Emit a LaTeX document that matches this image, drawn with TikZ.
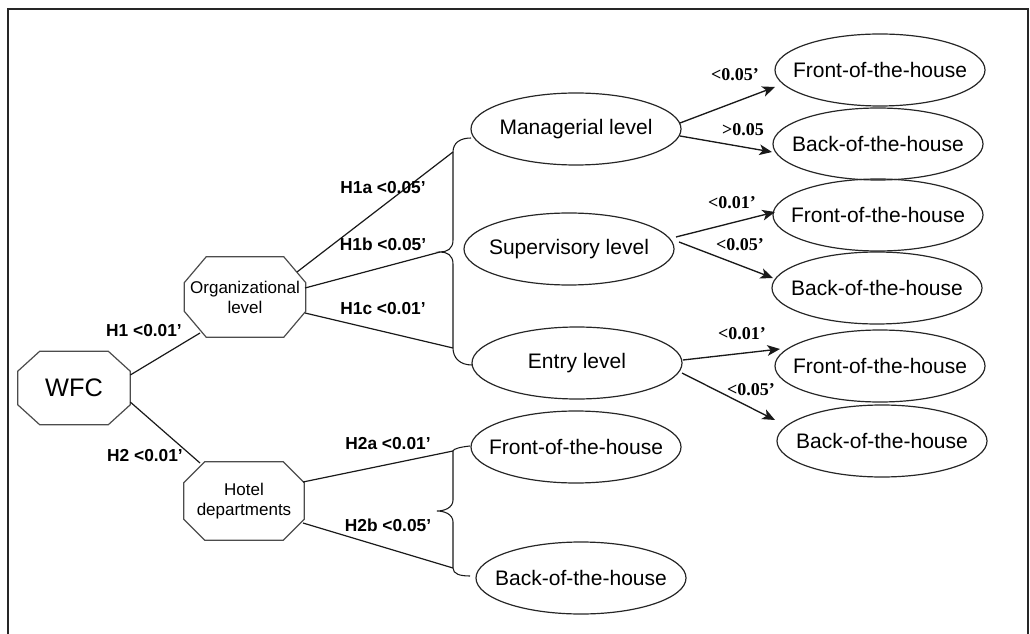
\documentclass[tikz,border=0pt]{standalone}
\usepackage{fontspec}
\setmainfont{Liberation Sans}
\newfontfamily\serifb{Liberation Serif}
\usetikzlibrary{arrows.meta,shapes.geometric}
\newcommand\zw[1]{\makebox[0pt]{#1}}
\tikzset{
  ell/.style={ellipse, draw=black!85, line width=0.9pt, minimum width=157.5pt, minimum height=54pt, inner sep=0pt, font=\fontsize{15.75}{18}\selectfont},
  oct/.style={rectangle, draw=none, inner sep=0pt, align=center},
  octline/.style={draw=black!70, line width=0.9pt},
  conn/.style={draw=black!90, line width=0.9pt},
  brace/.style={draw=black!90, line width=0.8pt},
  arr/.style={draw=black!90, line width=1pt, -{Stealth[length=9.5pt,width=8pt,inset=2.5pt]}},
  hl/.style={font=\bfseries\fontsize{13}{15}\selectfont, inner sep=0pt},
  pl/.style={font=\serifb\bfseries\fontsize{13.5}{15}\selectfont, inner sep=0pt},
  frame/.style={draw=black!85, line width=1.4pt}
}
\newcommand\octdraw[3]{%
  \draw[octline] ([xshift=#2*0.75pt]#1.north west) -- ([xshift=-#2*0.75pt]#1.north east)
   -- ([yshift=-#3*0.75pt]#1.north east) -- ([yshift=#3*0.75pt]#1.south east)
   -- ([xshift=-#2*0.75pt]#1.south east) -- ([xshift=#2*0.75pt]#1.south west)
   -- ([yshift=#3*0.75pt]#1.south west) -- ([yshift=-#3*0.75pt]#1.north west) -- cycle;}
\begin{document}
\begin{tikzpicture}[x=0.75pt,y=-0.75pt]
\useasboundingbox (0,0) rectangle (1030,634);
% frame
\coordinate (f1) at (8,634);
\coordinate (f2) at (8,9);
\coordinate (f3) at (1028,9);
\coordinate (f4) at (1028,634);
\draw[frame] (f1) -- (f2) -- (f3) -- (f4);

% octagon nodes
\node[oct, minimum width=84pt, minimum height=54.75pt, font=\fontsize{19}{22}\selectfont] (wfc) at (74,388) {WFC};
\octdraw{wfc}{22}{20}
\node[oct, minimum width=90.75pt, minimum height=60pt, font=\fontsize{12.75}{15}\selectfont] (org) at (245,297) {Organizational\\level};
\octdraw{org}{22}{26}
\node[oct, minimum width=90pt, minimum height=58.5pt, font=\fontsize{12.75}{15}\selectfont] (hot) at (244,501) {Hotel\\departments};
\octdraw{hot}{21}{21}

% middle ellipses
\node[ell] (mgr) at (576,129) {\zw{Managerial level}};
\node[ell] (sup) at (569,249) {\zw{Supervisory level}};
\node[ell] (ent) at (577,363) {\zw{Entry level}};
\node[ell] (hf) at (576,447) {\zw{Front-of-the-house}};
\node[ell] (hb) at (581,578) {\zw{Back-of-the-house}};

% right ellipses
\node[ell] (f1n) at (880,70) {\zw{Front-of-the-house}};
\node[ell] (b1n) at (878,144) {\zw{Back-of-the-house}};
\node[ell] (f2n) at (878,215) {\zw{Front-of-the-house}};
\node[ell] (b2n) at (877,288) {\zw{Back-of-the-house}};
\node[ell] (f3n) at (880,366) {\zw{Front-of-the-house}};
\node[ell] (b3n) at (882,441) {\zw{Back-of-the-house}};

% WFC connectors
\draw[conn] (wfc.13) -- ([shift={(-45,36)}]org.center);
\draw[conn] (wfc.-14) -- ([shift={(-44,-38)}]hot.center);

% braces (organizational)
\coordinate (bt) at ([shift={(-123,23)}]mgr.center);
\coordinate (btip) at ([shift={(-129,3)}]sup.center);
\coordinate (bb) at ([shift={(-124,-15)}]ent.center);
\draw[brace] ([shift={(-105,9)}]mgr.center) .. controls (460,138) and (453,143) .. (bt)
  -- (453,240) .. controls (453,249) and (447,252) .. (btip)
  .. controls (447,252) and (453,255) .. (453,264) -- (bb)
  .. controls (453,358) and (460,365) .. ([shift={(-105,2)}]ent.center);
\draw[conn] ([shift={(52,-25)}]org.center) -- (bt);
\draw[conn] ([shift={(60,-9)}]org.center) -- (btip);
\draw[conn] ([shift={(60,16)}]org.center) -- (bb);

% braces (hotel)
\coordinate (ht) at ([shift={(-123,4)}]hf.center);
\coordinate (hbm) at ([shift={(-128,-10)}]hb.center);
\coordinate (htip) at (437,511);
\draw[brace] ([shift={(-106,-1)}]hf.center) .. controls (460,447) and (453,449) .. (ht)
  -- (453,500) .. controls (453,508) and (444,511) .. (htip)
  .. controls (444,511) and (453,514) .. (453,522) -- (hbm)
  .. controls (453,574) and (460,576) .. ([shift={(-111,-2)}]hb.center);
\draw[conn] ([shift={(59,-19)}]hot.center) -- (ht);
\draw[conn] ([shift={(59,22)}]hot.center) -- (hbm);

% arrows
\draw[arr] ([shift={(104,-6)}]mgr.center) -- ([shift={(-105,17)}]f1n.center);
\draw[arr] ([shift={(104,7)}]mgr.center) -- ([shift={(-106,8)}]b1n.center);
\draw[arr] ([shift={(107,-12)}]sup.center) -- ([shift={(-103,-3)}]f2n.center);
\draw[arr] ([shift={(110,-7)}]sup.center) -- ([shift={(-104,-10)}]b2n.center);
\draw[arr] ([shift={(106,-3)}]ent.center) -- ([shift={(-100,-17)}]f3n.center);
\draw[arr] ([shift={(105,10)}]ent.center) -- ([shift={(-107,-21)}]b3n.center);

% labels
\node[hl] (l1) at (144,331) {H1 <0.01’};
\node[hl] (l2) at (145,456) {H2 <0.01’};
\node[hl] (l1a) at (383,188) {H1a <0.05’};
\node[hl] (l1b) at (383,244) {H1b <0.05’};
\node[hl] (l1c) at (383,309) {H1c <0.01’};
\node[hl] (l2a) at (388,444) {H2a <0.01’};
\node[hl] (l2b) at (388,525) {H2b <0.05’};
\node[pl] (p1) at (735,75) {<0.05’};
\node[pl] (p2) at (743,130) {>0.05};
\node[pl] (p3) at (732,203) {<0.01’};
\node[pl] (p4) at (740,245) {<0.05’};
\node[pl] (p5) at (742,334) {<0.01’};
\node[pl] (p6) at (751,390) {<0.05’};
\end{tikzpicture}
\end{document}
